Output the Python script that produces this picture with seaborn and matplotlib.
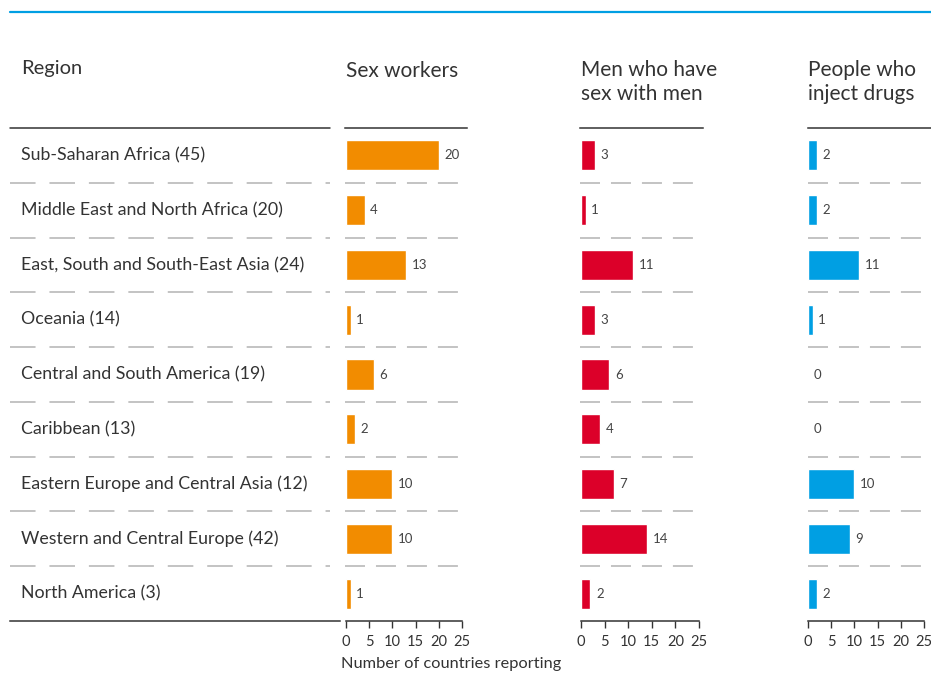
import matplotlib
matplotlib.use("Agg")
import matplotlib.pyplot as plt
import seaborn as sns

regions = [
    "Sub-Saharan Africa (45)",
    "Middle East and North Africa (20)",
    "East, South and South-East Asia (24)",
    "Oceania (14)",
    "Central and South America (19)",
    "Caribbean (13)",
    "Eastern Europe and Central Asia (12)",
    "Western and Central Europe (42)",
    "North America (3)",
]
sex_workers = [20, 4, 13, 1, 6, 2, 10, 10, 1]
msm = [3, 1, 11, 3, 6, 4, 7, 14, 2]
pwid = [2, 2, 11, 1, 0, 0, 10, 9, 2]

panel_titles = ["Sex workers", "Men who have\nsex with men", "People who\ninject drugs"]
panel_colors = ["#f28c00", "#dc0029", "#009fe3"]
xticks = [0, 5, 10, 15, 20, 25]

sns.set_theme(style="white")
plt.rcParams["font.family"] = ["Lato", "DejaVu Sans"]
plt.rcParams["lines.scale_dashes"] = False

TEXT = "#333333"
DASH = "#b3b3b3"
W, H = 931, 673
fig = plt.figure(figsize=(W / 100, H / 100), dpi=100)

TOP, BOTTOM = 128, 621


def px_axes(x0, x1, y0, y1):
    return fig.add_axes([x0 / W, 1 - y1 / H, (x1 - x0) / W, (y1 - y0) / H])


# blue rule across the top
fig.add_artist(plt.Line2D([10 / W, 1], [1 - 12 / H] * 2, color="#009fe3", lw=1.6))

# region column
rax = px_axes(10, 340, TOP, BOTTOM)
rax.set_xlim(0, 1)
rax.set_ylim(len(regions) - 0.5, -0.5)
rax.set_xticks([])
rax.set_yticks([])
for s in ["top", "left", "right"]:
    rax.spines[s].set_visible(False)
rax.spines["bottom"].set_color(TEXT)
rax.spines["bottom"].set_linewidth(1.1)
rax.axhline(-0.5, xmin=0, xmax=320 / 330, color=TEXT, lw=1.1, clip_on=False)
for i, name in enumerate(regions):
    rax.text(11 / 330, i, name, va="center", ha="left", fontsize=12.8, color=TEXT)
rax.hlines([i + 0.5 for i in range(len(regions) - 1)], 0, 320 / 330,
           transform=rax.get_yaxis_transform(), colors=DASH, lw=1.1,
           linestyles=[(0, (18.4, 10.0))])
fig.text(21 / W, 1 - 74 / H, "Region", fontsize=14.5, color=TEXT, va="baseline")

# bar panels: (left px, zero px, right px, px per unit)
panels = [(345, 346, 467, 4.64), (580, 581, 703, 4.72), (808, 808, 931, 4.64)]
series = [sex_workers, msm, pwid]
title_baselines = [77, 100, 100]

for (left, zero, right, scale), vals, title, color, base in zip(
        panels, series, panel_titles, panel_colors, title_baselines):
    ax = px_axes(left, right, TOP, BOTTOM)
    sns.barplot(x=vals, y=regions, orient="h", color=color, width=0.55,
                saturation=1, ax=ax)
    ax.set_xlim((left - zero) / scale, (right - zero) / scale)
    ax.set_ylim(len(regions) - 0.5, -0.5)
    ax.set_yticks([])
    ax.set_ylabel("")
    ax.set_xlabel("")
    ax.set_xticks(xticks)
    ax.tick_params(axis="x", bottom=True, direction="out", length=5, width=1,
                   colors=TEXT, labelsize=10.5, pad=5)
    for s in ["left", "right"]:
        ax.spines[s].set_visible(False)
    ax.spines["top"].set_color(TEXT)
    ax.spines["top"].set_linewidth(1.1)
    ax.spines["bottom"].set_color(TEXT)
    ax.spines["bottom"].set_linewidth(1.1)
    ax.spines["bottom"].set_bounds(0, 25)
    ax.hlines([i + 0.5 for i in range(len(regions) - 1)], 0, 113 / (right - left),
              transform=ax.get_yaxis_transform(), colors=DASH, lw=1.1,
              linestyles=[(0, (14.4, 7.9))])
    ax.bar_label(ax.containers[0], padding=4, fontsize=9.5, color="#444444")
    fig.text(zero / W, 1 - base / H, title, fontsize=15, color=TEXT,
             va="baseline", linespacing=1.25)

fig.text(341 / W, 1 - 664 / H, "Number of countries reporting", fontsize=11.8,
         color=TEXT, va="center")

fig.savefig("out.png", dpi=100)
